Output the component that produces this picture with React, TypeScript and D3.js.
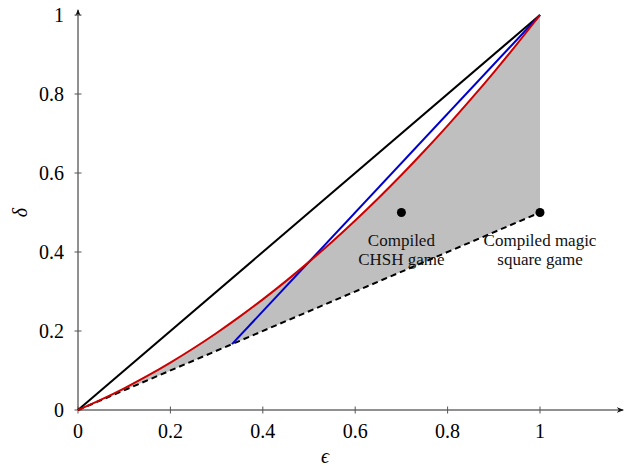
import React, { useEffect, useRef } from 'react';
import * as d3 from 'd3';

// tick values for both axes
const xTicks = [0, 0.2, 0.4, 0.6, 0.8, 1];
const yTicks = [0, 0.2, 0.4, 0.6, 0.8, 1];

// sampled epsilon values for the curved bound
const epsSamples = [0, 0.05, 0.1, 0.15, 0.2, 0.25, 0.3, 0.35, 0.4, 0.45, 0.5, 0.55, 0.6, 0.65, 0.7, 0.75, 0.8, 0.85, 0.9, 0.95, 1];
// red bound: delta = eps (1 + eps) / 2 at each sample
const redDelta = [0, 0.02625, 0.055, 0.08625, 0.12, 0.15625, 0.195, 0.23625, 0.28, 0.32625, 0.375, 0.42625, 0.48, 0.53625, 0.595, 0.65625, 0.72, 0.78625, 0.855, 0.92625, 1];

// straight bounds
const diagonal = [{ x: 0, y: 0 }, { x: 1, y: 1 }];
const dashedBound = [{ x: 0, y: 0 }, { x: 1, y: 0.5 }];
const blueBound = [{ x: 1 / 3, y: 1 / 6 }, { x: 1, y: 1 }];

// compiled games
const games = [
  { name: ['Compiled', 'CHSH game'], eps: 0.7, delta: 0.5 },
  { name: ['Compiled magic', 'square game'], eps: 1, delta: 0.5 },
];

const FONT = '"Liberation Serif", "DejaVu Serif", serif';

const Chart: React.FC = () => {
  const svgRef = useRef<SVGSVGElement | null>(null);
  const width = 630;
  const height = 468;

  useEffect(() => {
    if (!svgRef.current) return;
    const svg = d3.select(svgRef.current);
    svg.selectAll('*').remove();

    const x = d3.scaleLinear().domain([0, 1]).range([78, 540]);
    const y = d3.scaleLinear().domain([0, 1]).range([410, 15]);
    const xEnd = 1.18;
    const yEnd = 1.008;

    const defs = svg.append('defs');
    defs
      .append('marker')
      .attr('id', 'arrow')
      .attr('viewBox', '0 0 10 10')
      .attr('refX', 9)
      .attr('refY', 5)
      .attr('markerWidth', 7)
      .attr('markerHeight', 7)
      .attr('orient', 'auto')
      .append('path')
      .attr('d', 'M0,1 L10,5 L0,9 L3,5 Z')
      .attr('fill', '#111');

    const redPts = epsSamples.map((e, i) => ({ x: e, y: redDelta[i] }));
    const line = d3
      .line<{ x: number; y: number }>()
      .x((d) => x(d.x))
      .y((d) => y(d.y));

    // shaded region between dashed bound and red curve
    const region = [...redPts, { x: 1, y: 0.5 }, { x: 0, y: 0 }];
    svg
      .append('path')
      .attr('d', line(region) + 'Z')
      .attr('fill', '#bfbfbf')
      .attr('stroke', 'none');

    // axes
    svg
      .append('line')
      .attr('x1', x(0))
      .attr('y1', y(0))
      .attr('x2', x(xEnd))
      .attr('y2', y(0))
      .attr('stroke', '#222')
      .attr('stroke-width', 1)
      .attr('marker-end', 'url(#arrow)');
    svg
      .append('line')
      .attr('x1', x(0))
      .attr('y1', y(0))
      .attr('x2', x(0))
      .attr('y2', y(yEnd) - 2)
      .attr('stroke', '#222')
      .attr('stroke-width', 1)
      .attr('marker-end', 'url(#arrow)');

    // ticks and labels
    xTicks.forEach((t) => {
      svg
        .append('line')
        .attr('x1', x(t))
        .attr('x2', x(t))
        .attr('y1', y(0) - 3.5)
        .attr('y2', y(0) + 3.5)
        .attr('stroke', '#555');
      svg
        .append('text')
        .attr('x', x(t))
        .attr('y', 438)
        .attr('text-anchor', 'middle')
        .style('font-family', FONT)
        .style('font-size', '20px')
        .text(d3.format('~g')(t));
    });
    yTicks.forEach((t) => {
      svg
        .append('line')
        .attr('x1', x(0) - 3.5)
        .attr('x2', x(0) + 3.5)
        .attr('y1', y(t))
        .attr('y2', y(t))
        .attr('stroke', '#555');
      svg
        .append('text')
        .attr('x', 64)
        .attr('y', y(t) + 6.5)
        .attr('text-anchor', 'end')
        .style('font-family', FONT)
        .style('font-size', '20px')
        .text(d3.format('~g')(t));
    });

    // bounds
    svg
      .append('path')
      .attr('d', line(dashedBound))
      .attr('fill', 'none')
      .attr('stroke', '#000')
      .attr('stroke-width', 2)
      .attr('stroke-dasharray', '6,4');
    svg
      .append('path')
      .attr('d', line(diagonal))
      .attr('fill', 'none')
      .attr('stroke', '#000')
      .attr('stroke-width', 2);
    svg
      .append('path')
      .attr('d', line(blueBound))
      .attr('fill', 'none')
      .attr('stroke', '#0000cc')
      .attr('stroke-width', 2);
    svg
      .append('path')
      .attr('d', d3.line<{ x: number; y: number }>().x((d) => x(d.x)).y((d) => y(d.y)).curve(d3.curveMonotoneX)(redPts))
      .attr('fill', 'none')
      .attr('stroke', '#cc0000')
      .attr('stroke-width', 2);

    // game points
    games.forEach((g) => {
      svg
        .append('circle')
        .attr('cx', x(g.eps))
        .attr('cy', y(g.delta))
        .attr('r', 4.5)
        .attr('fill', '#000');
      g.name.forEach((ln, i) => {
        svg
          .append('text')
          .attr('x', x(g.eps))
          .attr('y', y(g.delta) + 33 + i * 19)
          .attr('text-anchor', 'middle')
          .style('font-family', FONT)
          .style('font-size', '17px')
          .style('fill', '#111')
          .text(ln);
      });
    });

    // axis labels
    svg
      .append('text')
      .attr('x', 325)
      .attr('y', 463)
      .attr('text-anchor', 'middle')
      .style('font-family', FONT)
      .style('font-style', 'italic')
      .style('font-size', '20px')
      .text('ϵ');
    svg
      .append('text')
      .attr('transform', `translate(27,${y(0.5)}) rotate(-90)`)
      .attr('text-anchor', 'middle')
      .style('font-family', FONT)
      .style('font-style', 'italic')
      .style('font-size', '20px')
      .text('δ');
  }, []);

  return <svg ref={svgRef} width={width} height={height} style={{ position: 'absolute', left: 0, top: 0, background: '#fff' }}></svg>;
};

export default function App() {
  return <Chart />;
}
